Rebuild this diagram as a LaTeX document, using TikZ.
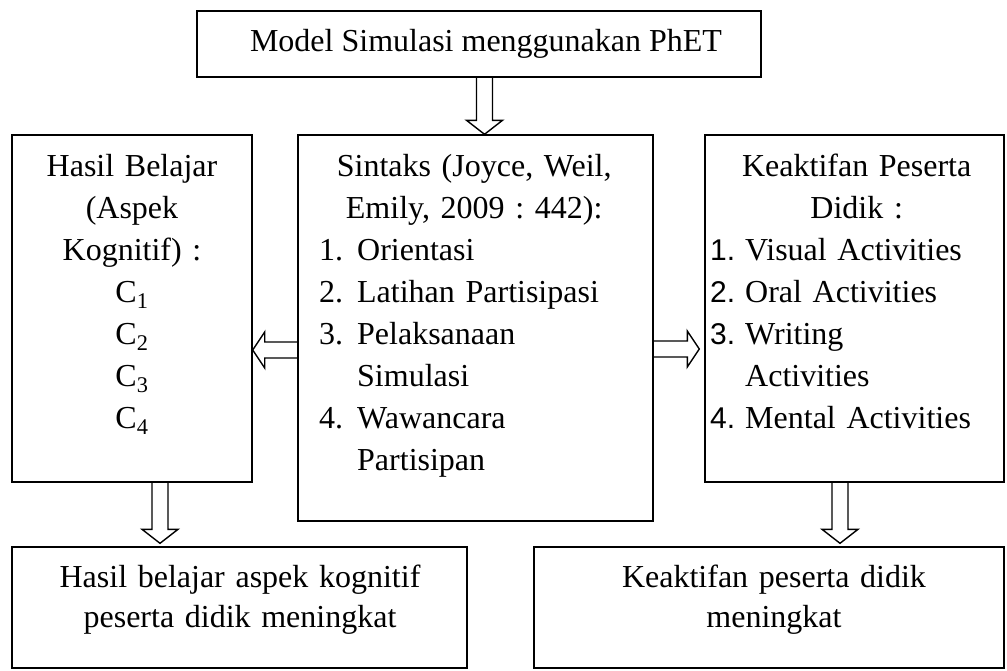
\documentclass[tikz,border=0pt]{standalone}
\usepackage{fontspec}
\setmainfont{Liberation Serif}
\newfontfamily\numfont{Liberation Sans}
\usetikzlibrary{calc,positioning}
\frenchspacing

% hollow block arrows between boxes
\newcommand{\hollowdown}[2]{%
  \draw[hollow] ($(#1)+(-8,0)$) -- ($(#2)+(-8,-14)$) -- ($(#2)+(-18,-14)$)
    -- (#2) -- ($(#2)+(18,-14)$) -- ($(#2)+(8,-14)$) -- ($(#1)+(8,0)$);}
\newcommand{\hollowleft}[2]{%
  \draw[hollow] ($(#1)+(0,-8)$) -- ($(#2)+(12,-8)$) -- ($(#2)+(12,-18)$)
    -- (#2) -- ($(#2)+(12,18)$) -- ($(#2)+(12,8)$) -- ($(#1)+(0,8)$);}
\newcommand{\hollowright}[2]{%
  \draw[hollow] ($(#1)+(0,-8)$) -- ($(#2)+(-12,-8)$) -- ($(#2)+(-12,-18)$)
    -- (#2) -- ($(#2)+(-12,18)$) -- ($(#2)+(-12,8)$) -- ($(#1)+(0,8)$);}
\newcommand{\numlabel}[1]{\makebox[35pt][l]{\numfont\fontsize{30}{42}\selectfont #1}}

\begin{document}
\begin{tikzpicture}[
          x=1pt, y=-1pt,
          box/.style={
            draw=black,
            line width=1.4pt,
            inner sep=0pt,
          },
          txt/.style={
            inner sep=0pt,
            font=\fontsize{32}{42}\selectfont,
          },
          hollow/.style={
            draw=black,
            line width=1.4pt,
            line join=miter,
          },
        ]
          \useasboundingbox (0,0) rectangle (1007,670);

          % boxes
          \node[box, minimum width=564pt, minimum height=66pt] (model) at (479,44) {};
          \node[box, minimum width=240pt, minimum height=347pt] (hasil) at (132,308.5) {};
          \node[box, minimum width=355pt, minimum height=386pt] (sintaks) at (475.5,328) {};
          \node[box, minimum width=299pt, minimum height=347pt] (keaktifan) at (854.5,308.5) {};
          \node[box, minimum width=455pt, minimum height=121pt] (hasilout) at (239.5,607.5) {};
          \node[box, minimum width=470pt, minimum height=121pt] (keaktifanout) at (769,607.5) {};

          % texts
          \node[txt] (modeltxt) at (486,44) {Model Simulasi menggunakan PhET};
          \node[txt, text width=240pt, align=center, anchor=base] (hasiltxt) at (132,176)
            {Hasil Belajar\\(Aspek\\Kognitif) :\\C\textsubscript{1}\\C\textsubscript{2}\\C\textsubscript{3}\\C\textsubscript{4}};
          \node[txt, text width=310pt, align=left, anchor=base west] (sintakstxt) at (319,176)
            {\makebox[\linewidth]{Sintaks (Joyce, Weil,}\\
             \makebox[\linewidth]{Emily, 2009 : 442):}\\
             \makebox[38pt][l]{1.}Orientasi\\
             \makebox[38pt][l]{2.}Latihan Partisipasi\\
             \makebox[38pt][l]{3.}Pelaksanaan\\
             \hspace*{38pt}Simulasi\\
             \makebox[38pt][l]{4.}Wawancara\\
             \hspace*{38pt}Partisipan};
          \node[txt, text width=293pt, align=left, anchor=base west] (keaktifantxt) at (710,176)
            {\makebox[\linewidth]{Keaktifan Peserta}\\
             \makebox[\linewidth]{Didik :}\\
             \numlabel{1.}Visual Activities\\
             \numlabel{2.}Oral Activities\\
             \numlabel{3.}Writing\\
             \hspace*{35pt}Activities\\
             \numlabel{4.}Mental Activities};
          \node[txt, font=\fontsize{32}{40}\selectfont, text width=440pt, align=center, anchor=base] (hasilouttxt) at (240,587)
            {Hasil belajar aspek kognitif\\peserta didik meningkat};
          \node[txt, font=\fontsize{32}{40}\selectfont, text width=440pt, align=center, anchor=base] (keaktifanouttxt) at (774,587)
            {Keaktifan peserta didik\\meningkat};

          % arrows
          \coordinate (a1) at ([xshift=5.5pt]model.south);
          \coordinate (a1e) at (a1 |- sintaks.north);
          \hollowdown{a1}{a1e}
          \coordinate (a2) at ([yshift=-22pt]sintaks.west);
          \coordinate (a2e) at (a2 -| hasil.east);
          \hollowleft{a2}{a2e}
          \coordinate (a3) at ([yshift=-21pt]sintaks.east);
          \coordinate (a3e) at ([xshift=-5pt]a3 -| keaktifan.west);
          \hollowright{a3}{a3e}
          \coordinate (a4) at ([xshift=28pt]hasil.south);
          \coordinate (a4e) at ([yshift=3pt]a4 |- hasilout.north);
          \hollowdown{a4}{a4e}
          \coordinate (a5) at ([xshift=-14.5pt]keaktifan.south);
          \coordinate (a5e) at ([yshift=3pt]a5 |- keaktifanout.north);
          \hollowdown{a5}{a5e}
        \end{tikzpicture}
\end{document}
